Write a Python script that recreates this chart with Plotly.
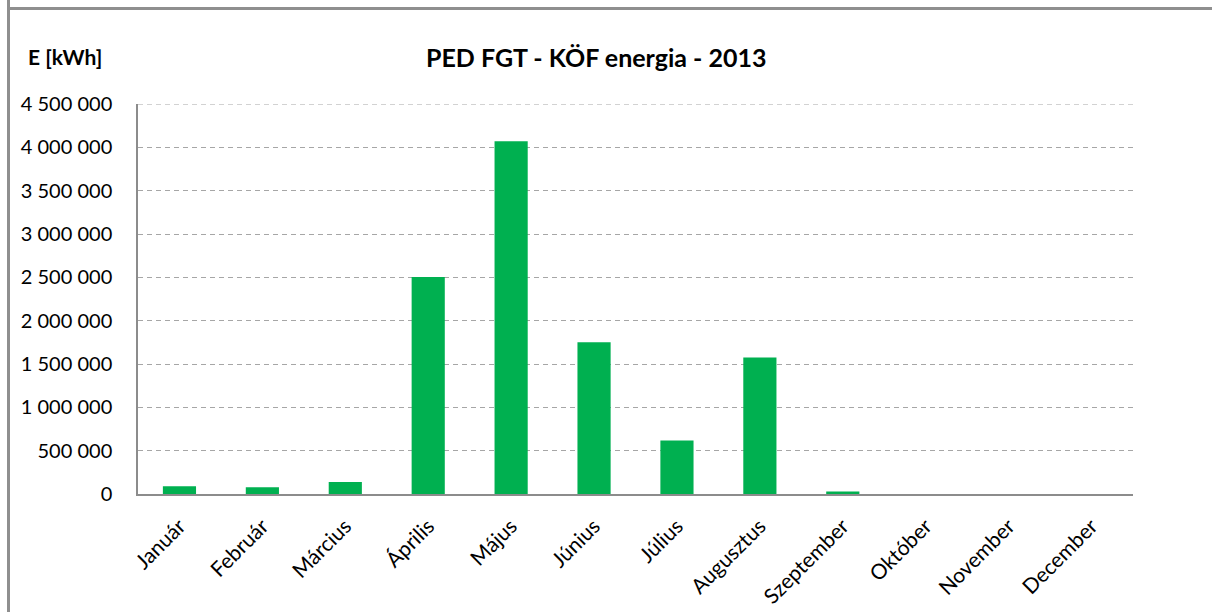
import plotly.graph_objects as go

# Monthly energy values
months = ["Január", "Február", "Március", "Április", "Május", "Június",
          "Július", "Augusztus", "Szeptember", "Október", "November", "December"]
energy_kwh = [90000, 78000, 138000, 2505000, 4070000, 1750000,
              618000, 1575000, 30000, 0, 0, 0]

y_ticks = [0, 500000, 1000000, 1500000, 2000000, 2500000,
           3000000, 3500000, 4000000, 4500000]

FONT = "Lato, Carlito, Calibri, sans-serif"
GREEN = "#00B050"
GRAY = "#8c8c8c"
GRID = "#a6a6a6"

# plot area in pixels (used to place the frame lines in paper coords)
W, H = 1212, 612
L, R, T, B = 138, 79, 104, 118
pw, ph = W - L - R, H - T - B


def px_x(px):
    return (px - L) / pw


def px_y(py):
    return (H - B - py) / ph


fig = go.Figure()

fig.add_trace(go.Bar(
    x=months,
    y=energy_kwh,
    marker=dict(color=GREEN, line=dict(width=0)),
    hovertemplate="%{x}: %{y:,d} kWh<extra></extra>",
))

fig.update_layout(
    width=W,
    height=H,
    margin=dict(l=L, r=R, t=T, b=B),
    paper_bgcolor="white",
    plot_bgcolor="white",
    bargap=0.6,
    showlegend=False,
    separators=", ",
    font=dict(family=FONT, size=20, color="#000000"),
)

fig.update_xaxes(
    automargin=False,
    tickangle=-45,
    showline=True,
    linecolor=GRAY,
    linewidth=1.5,
    showgrid=False,
    ticks="",
    ticklabelstandoff=10,
    tickfont=dict(family=FONT, size=21),
)

fig.update_yaxes(
    automargin=False,
    range=[0, y_ticks[-1]],
    tickvals=y_ticks,
    tickformat=",d",
    showline=True,
    linecolor=GRAY,
    linewidth=1.5,
    showgrid=True,
    gridcolor=GRID,
    gridwidth=1,
    griddash="5px,4px",
    zeroline=False,
    ticks="",
    ticklabelstandoff=20,
    tickfont=dict(family=FONT, size=20),
)

# top gridline sits on the edge of the plot area, draw it explicitly
fig.add_shape(type="line", xref="paper", yref="y",
              x0=0, x1=1, y0=y_ticks[-1], y1=y_ticks[-1],
              line=dict(color=GRID, width=1, dash="5px,4px"))

# title and unit label
fig.add_annotation(
    text="<b>PED FGT - KÖF energia - 2013</b>",
    xref="paper", yref="paper",
    x=px_x(596), y=px_y(57),
    showarrow=False, xanchor="center", yanchor="middle",
    font=dict(family=FONT, size=25),
)
fig.add_annotation(
    text="<b>E [kWh]</b>",
    xref="paper", yref="paper",
    x=px_x(26), y=px_y(57),
    showarrow=False, xanchor="left", yanchor="middle",
    font=dict(family=FONT, size=21),
)

# chart frame (top and left edge)
fig.add_shape(type="line", xref="paper", yref="paper",
              x0=px_x(8.5), x1=px_x(W), y0=px_y(8.5), y1=px_y(8.5),
              line=dict(color="#8f8f8f", width=3))
fig.add_shape(type="line", xref="paper", yref="paper",
              x0=px_x(8.5), x1=px_x(8.5), y0=px_y(0), y1=px_y(H),
              line=dict(color="#8f8f8f", width=3))

fig.write_html("out.html", config={"displayModeBar": False},
               post_script="document.body.style.margin='0';")
